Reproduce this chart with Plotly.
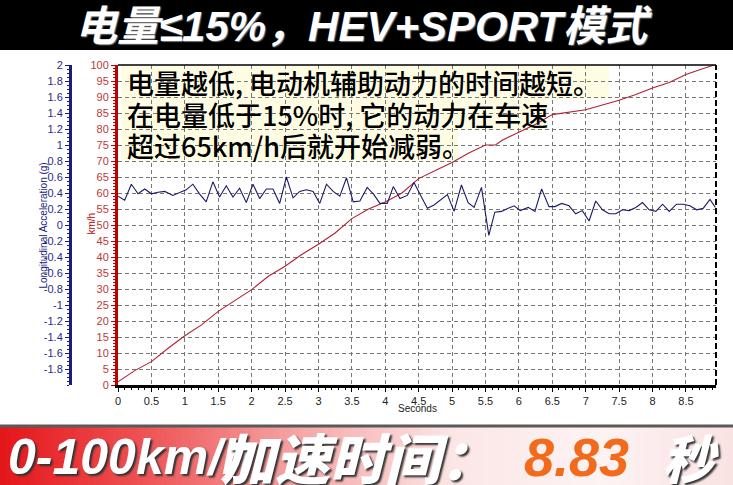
import plotly.graph_objects as go

# speed trace (km/h)
speed_t = [0.0, 0.25, 0.5, 0.75, 1.0, 1.25, 1.5, 1.75, 2.0, 2.25, 2.5, 2.75,
           3.0, 3.25, 3.5, 3.75, 4.0, 4.25, 4.5, 4.75, 5.0, 5.25, 5.5, 5.65,
           5.75, 6.0, 6.25, 6.5, 6.75, 7.0, 7.25, 7.5, 7.75, 8.0, 8.25, 8.5,
           8.75, 8.92]
speed_kmh = [1.0, 4.5, 7.3, 11.5, 15.4, 18.8, 23.0, 26.3, 29.8, 34.0, 37.1, 40.8,
             44.0, 47.5, 52.0, 55.0, 57.2, 60.0, 64.5, 67.0, 69.5, 72.5, 75.0, 75.0,
             76.5, 79.0, 81.5, 84.5, 85.3, 86.0, 87.5, 89.0, 90.8, 92.8, 94.5, 97.0,
             98.8, 100.0]

# longitudinal acceleration (g), blue curve
accel_t = [0.0, 0.1, 0.2, 0.3, 0.4, 0.5, 0.6, 0.7, 0.82, 0.9,
           1.02, 1.12, 1.22, 1.32, 1.42, 1.52, 1.62, 1.72, 1.82, 1.92,
           2.02, 2.12, 2.22, 2.32, 2.42, 2.52, 2.62, 2.72, 2.82, 2.92,
           3.02, 3.12, 3.22, 3.32, 3.42, 3.52, 3.62, 3.73, 3.83, 3.92,
           4.03, 4.12, 4.22, 4.33, 4.43, 4.53, 4.63, 4.73, 4.83, 4.93,
           5.03, 5.14, 5.24, 5.33, 5.44, 5.55, 5.64, 5.74, 5.84, 5.93,
           6.02, 6.14, 6.24, 6.34, 6.45, 6.54, 6.64, 6.75, 6.85, 6.95,
           7.05, 7.15, 7.25, 7.35, 7.45, 7.55, 7.65, 7.75, 7.85, 7.95,
           8.05, 8.15, 8.25, 8.36, 8.46, 8.56, 8.66, 8.76, 8.86, 8.94]
accel_g = [0.36, 0.31, 0.51, 0.39, 0.45, 0.39, 0.41, 0.42, 0.37, 0.40,
           0.44, 0.51, 0.39, 0.29, 0.54, 0.35, 0.49, 0.35, 0.46, 0.28,
           0.51, 0.33, 0.45, 0.45, 0.27, 0.60, 0.34, 0.42, 0.44, 0.42,
           0.27, 0.51, 0.42, 0.36, 0.59, 0.29, 0.30, 0.47, 0.38, 0.27,
           0.27, 0.48, 0.33, 0.37, 0.53, 0.37, 0.21, 0.25, 0.32, 0.38,
           0.17, 0.50, 0.28, 0.22, 0.47, -0.13, 0.16, 0.17, 0.21, 0.24,
           0.18, 0.22, 0.17, 0.45, 0.23, 0.23, 0.27, 0.24, 0.14, 0.18,
           0.05, 0.30, 0.19, 0.14, 0.14, 0.19, 0.18, 0.22, 0.28, 0.19,
           0.17, 0.26, 0.17, 0.26, 0.26, 0.24, 0.19, 0.21, 0.32, 0.22]

accel_ticks = [2, 1.8, 1.6, 1.4, 1.2, 1, 0.8, 0.6, 0.4, 0.2, 0,
               -0.2, -0.4, -0.6, -0.8, -1, -1.2, -1.4, -1.6, -1.8]
accel_labels = ["2", "1.8", "1.6", "1.4", "1.2", "1", "0.8", "0.6", "0.4", "0.2", "0",
                "-0.2", "-0.4", "-0.6", "-0.8", "-1", "-1.2", "-1.4", "-1.6", "-1.8"]

title_text = "电量≤15%，HEV+SPORT模式"
note_lines = ["电量越低, 电动机辅助动力的时间越短。",
              "在电量低于15%时, 它的动力在车速",
              "超过65km/h后就开始减弱。"]
result_time = "8.83"

W, H = 733, 485
def px(x):
    return x / W
def py(y):
    return (H - y) / H

LATIN = "Liberation Sans Narrow, Liberation Sans, Noto Sans CJK SC"
CJK = "Noto Sans CJK SC"
RED = "#c00000"
NAVY = "#1c1c80"

fig = go.Figure()
fig.add_trace(go.Scatter(x=speed_t, y=speed_kmh, mode="lines",
                         line=dict(color="#b02232", width=1.1), yaxis="y"))
fig.add_trace(go.Scatter(x=accel_t, y=accel_g, mode="lines",
                         line=dict(color="#1a1a6a", width=1.1), yaxis="y2"))

shapes = []
# black title bar
shapes.append(dict(type="rect", xref="paper", yref="paper", x0=0, x1=1,
                   y0=py(50), y1=1, fillcolor="black", line_width=0, layer="below"))

# bottom gradient banner, built from thin strips
stops = [(0.0, (228, 22, 26)), (0.2, (238, 84, 86)), (0.42, (246, 170, 170)),
         (0.62, (252, 230, 230)), (0.82, (253, 243, 243)), (1.0, (250, 226, 226))]
def grad(f):
    for (a, ca), (b, cb) in zip(stops[:-1], stops[1:]):
        if a <= f <= b:
            k = (f - a) / (b - a)
            return "rgb(%d,%d,%d)" % tuple(round(ca[i] + (cb[i] - ca[i]) * k) for i in range(3))
    return "rgb(250,226,226)"
n = 150
for i in range(n):
    shapes.append(dict(type="rect", xref="paper", yref="paper",
                       x0=i / n, x1=(i + 1) / n + 0.002, y0=0, y1=py(427),
                       fillcolor=grad((i + 0.5) / n), line_width=0, layer="below"))
shapes.append(dict(type="line", xref="paper", yref="paper", x0=0, x1=1,
                   y0=py(426), y1=py(426), line=dict(color="#5a5a5a", width=3)))

# pale yellow boxes behind the note, one per line
for (x1, y0, y1) in [(609, 66, 99), (548, 99, 130), (458, 130, 161)]:
    shapes.append(dict(type="rect", xref="paper", yref="paper", x0=px(121), x1=px(x1),
                       y0=py(y1), y1=py(y0), fillcolor="#fefde4", line_width=0,
                       layer="between"))

# plot frame: solid top, dashed right
shapes.append(dict(type="line", xref="paper", yref="paper", x0=px(118), x1=px(716),
                   y0=py(65), y1=py(65), line=dict(color="black", width=1.5)))
shapes.append(dict(type="line", xref="paper", yref="paper", x0=px(716), x1=px(716),
                   y0=py(385), y1=py(65), line=dict(color="black", width=2, dash="6px,3px")))

ann = []
ann.append(dict(text=title_text, xref="paper", yref="paper", x=0.497, y=py(26),
                showarrow=False, xanchor="center", yanchor="middle",
                font=dict(family=LATIN, size=42, color="white", weight="bold",
                          style="italic", shadow="1px 1px 1px #777")))
for line, yy in zip(note_lines, [83, 114, 145]):
    ann.append(dict(text=line, xref="paper", yref="paper", x=px(125), y=py(yy),
                    showarrow=False, xanchor="left", yanchor="middle",
                    font=dict(family=CJK, size=27, color="black", weight=500)))

ann.append(dict(text="Longitudinal Acceleration (g)", xref="paper", yref="paper",
                x=px(35), y=py(226), textangle=-90, showarrow=False,
                font=dict(family="Liberation Sans", size=10, color=NAVY)))
ann.append(dict(text="km/h", xref="paper", yref="paper", x=px(83), y=py(224),
                textangle=-90, showarrow=False,
                font=dict(family="Liberation Sans", size=10, color=RED)))
ann.append(dict(text="Seconds", xref="paper", yref="paper", x=px(417), y=py(416),
                showarrow=False,
                font=dict(family="Liberation Sans", size=10, color="#222")))

shadow = "2px 2px 2px #333"
ann.append(dict(text="0-100km/h", xref="paper", yref="paper", x=px(6), y=py(457),
                showarrow=False, xanchor="left", yanchor="middle",
                font=dict(family=LATIN, size=50, color="white", weight="bold",
                          style="italic", shadow=shadow)))
ann.append(dict(text="加速时间：", xref="paper", yref="paper", x=px(218), y=py(456),
                showarrow=False, xanchor="left", yanchor="middle",
                font=dict(family=CJK, size=55, color="white", weight=900,
                          style="italic", shadow=shadow)))
ann.append(dict(text=result_time, xref="paper", yref="paper", x=px(522), y=py(457),
                showarrow=False, xanchor="left", yanchor="middle",
                font=dict(family=LATIN, size=54, color="#f26a1c", weight="bold",
                          style="italic")))
ann.append(dict(text="秒", xref="paper", yref="paper", x=px(660), y=py(456),
                showarrow=False, xanchor="left", yanchor="middle",
                font=dict(family=CJK, size=52, color="white", weight=900,
                          style="italic", shadow=shadow)))

tickfont = dict(family="Liberation Sans", size=11)
fig.update_layout(
    width=W, height=H, margin=dict(l=0, r=0, t=0, b=0, pad=0, autoexpand=False),
    paper_bgcolor="white", plot_bgcolor="white", showlegend=False,
    shapes=shapes, annotations=ann,
    xaxis=dict(domain=[px(118), px(716)], range=[0, 8.95], dtick=0.5, tick0=0,
               automargin=False,
               showline=True, linecolor="black", linewidth=3,
               ticks="outside", ticklen=4, tickcolor="black",
               minor=dict(dtick=0.1, ticks="outside", ticklen=2, tickcolor="black"),
               showgrid=True, gridcolor="#777", griddash="4px,3px", gridwidth=1,
               zeroline=False, tickfont=dict(tickfont, color="#222")),
    yaxis=dict(domain=[py(385), py(65)], range=[0, 100], dtick=5,
               automargin=False,
               showline=True, linecolor=RED, linewidth=3,
               ticks="outside", ticklen=4, tickcolor=RED,
               minor=dict(dtick=1, ticks="outside", ticklen=2, tickcolor=RED),
               showgrid=True, gridcolor="#777", griddash="4px,3px", gridwidth=1,
               zeroline=False, tickfont=dict(tickfont, color="#c03838")),
    yaxis2=dict(overlaying="y", anchor="free", position=px(70), side="left",
                automargin=False,
                range=[-2, 2], tickvals=accel_ticks, ticktext=accel_labels,
                showline=True, linecolor=NAVY, linewidth=3,
                ticks="outside", ticklen=4, tickcolor=NAVY,
                minor=dict(dtick=0.05, ticks="outside", ticklen=2, tickcolor=NAVY),
                showgrid=False, zeroline=False,
                tickfont=dict(tickfont, color="#2a2a8a")),
)

# make the page exactly the figure size (no body margin, no extra height)
page_fix = ("var s='margin:0;padding:0;overflow:hidden;height:485px;width:733px';"
            "document.documentElement.style.cssText=s;document.body.style.cssText=s;")
fig.write_html("out.html", config={"displayModeBar": False}, post_script=page_fix)
